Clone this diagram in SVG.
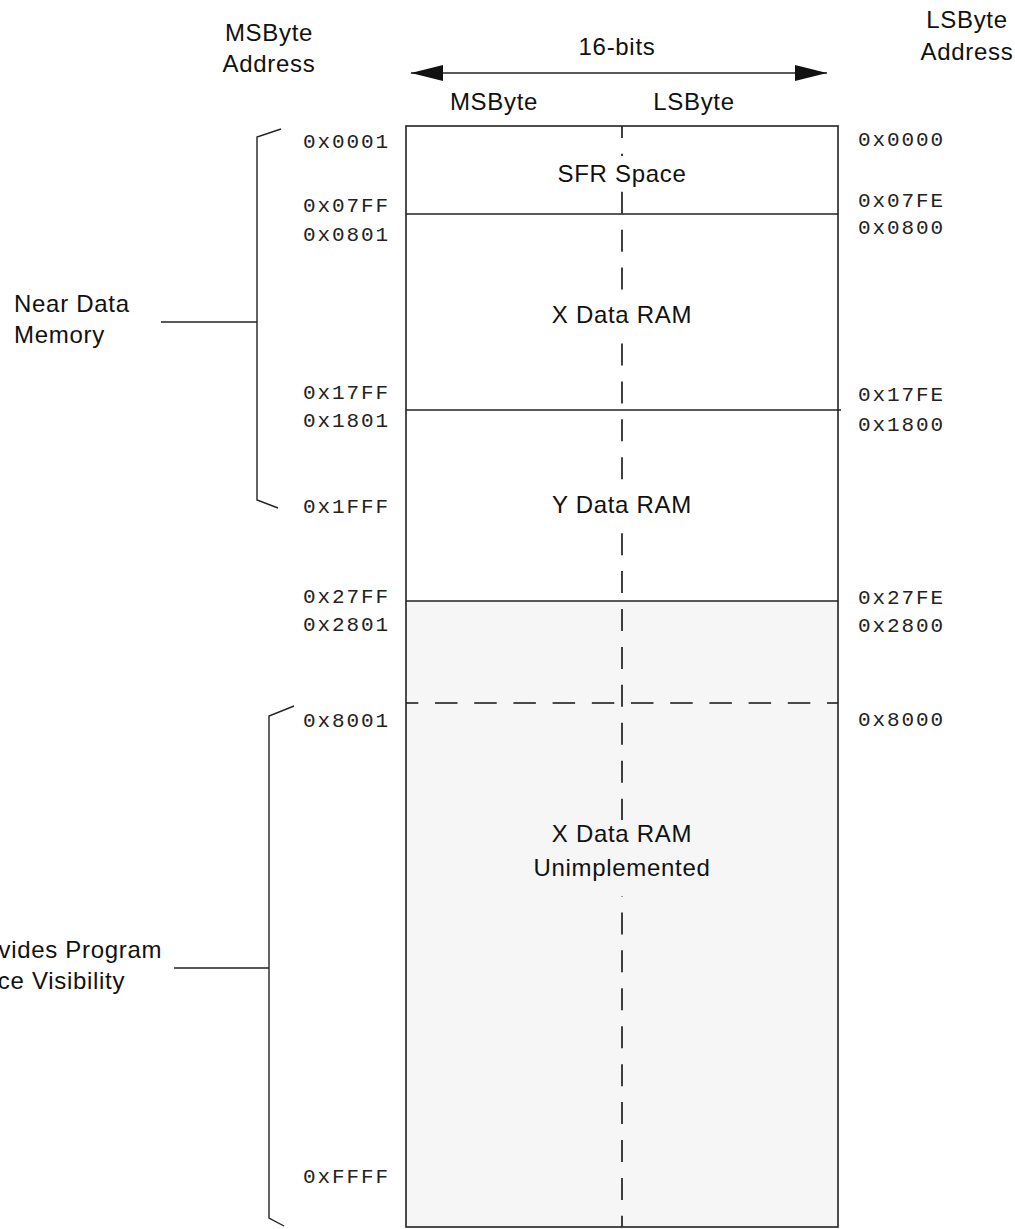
<svg xmlns="http://www.w3.org/2000/svg" width="1015" height="1229" viewBox="0 0 1015 1229">
<style>
.lbl{font-family:"Liberation Sans",Arial,sans-serif;font-size:24px;letter-spacing:0.7px;fill:#111}
.mid{text-anchor:middle}
.addr{font-family:"Liberation Mono","Courier New",monospace;font-size:21px;letter-spacing:1.9px;fill:#222}
.ln{stroke:#222;stroke-width:1.4;fill:none}
.box{stroke:#222;stroke-width:1.6}
.dash{stroke:#111;stroke-width:1.6;fill:none}
</style>
<defs>
<marker id="ah" viewBox="0 0 32 16" refX="32" refY="8" markerWidth="32" markerHeight="16" markerUnits="userSpaceOnUse" orient="auto-start-reverse">
<path d="M0,0 L32,8 L0,16 Z" fill="#111"/>
</marker>
</defs>
<rect width="1015" height="1229" fill="#fff"/>

<g id="header">
<text class="lbl mid" x="269" y="41">MSByte</text>
<text class="lbl mid" x="269" y="72">Address</text>
<text class="lbl mid" x="967" y="28">LSByte</text>
<text class="lbl mid" x="967" y="60">Address</text>
<text class="lbl mid" x="617" y="55">16-bits</text>
<text class="lbl mid" x="494" y="110">MSByte</text>
<text class="lbl mid" x="694" y="110">LSByte</text>
</g>

<g id="width-arrow">
<line class="ln" x1="411" y1="73" x2="827" y2="73" marker-start="url(#ah)" marker-end="url(#ah)"/>
</g>

<g id="unimplemented-region">
<rect x="406" y="601" width="432" height="626" fill="#f6f6f6"/>
</g>

<g id="connectors">
<line class="dash" x1="622" y1="126" x2="622" y2="1227" stroke-dasharray="22 15.93" stroke-dashoffset="10.1"/>
<line class="dash" x1="406" y1="703" x2="838" y2="703" stroke-dasharray="22.5 16.7" stroke-dashoffset="10.2"/>
<line class="ln" x1="406" y1="214" x2="838" y2="214"/>
<line class="ln" x1="406" y1="410" x2="841" y2="410"/>
<line class="ln" x1="406" y1="601" x2="838" y2="601"/>
<path class="ln" d="M281,129 L257,137 L257,500 L278,508"/>
<line class="ln" x1="161" y1="322" x2="257" y2="322"/>
<path class="ln" d="M294,706 L269,716 L269,1218 L284,1226"/>
<line class="ln" x1="174" y1="968" x2="269" y2="968"/>
</g>

<g id="memory-box">
<rect x="406" y="126" width="432" height="1101" fill="none" class="box"/>
</g>

<g id="sfr-space">
<rect x="580" y="156" width="84" height="31" fill="#fff"/>
<text class="lbl mid" x="622" y="182">SFR Space</text>
</g>
<g id="x-data-ram">
<rect x="560" y="299" width="124" height="31" fill="#fff"/>
<text class="lbl mid" x="622" y="323">X Data RAM</text>
</g>
<g id="y-data-ram">
<rect x="560" y="489" width="124" height="31" fill="#fff"/>
<text class="lbl mid" x="622" y="513">Y Data RAM</text>
</g>
<g id="x-data-ram-unimplemented">
<rect x="560" y="820" width="124" height="76" fill="#f6f6f6"/>
<text class="lbl mid" x="622" y="842">X Data RAM</text>
<text class="lbl mid" x="622" y="876">Unimplemented</text>
</g>

<g id="near-data-memory">
<text class="lbl" x="14" y="312">Near Data</text>
<text class="lbl" x="14" y="343">Memory</text>
</g>
<g id="program-space-visibility">
<text class="lbl" x="-41" y="958">Provides Program</text>
<text class="lbl" x="-47" y="989">Space Visibility</text>
</g>

<g id="msbyte-addresses">
<text class="addr" x="303" y="148">0x0001</text>
<text class="addr" x="303" y="212">0x07FF</text>
<text class="addr" x="303" y="241">0x0801</text>
<text class="addr" x="303" y="399">0x17FF</text>
<text class="addr" x="303" y="427">0x1801</text>
<text class="addr" x="303" y="513">0x1FFF</text>
<text class="addr" x="303" y="603">0x27FF</text>
<text class="addr" x="303" y="631">0x2801</text>
<text class="addr" x="303" y="727">0x8001</text>
<text class="addr" x="303" y="1183">0xFFFF</text>
</g>
<g id="lsbyte-addresses">
<text class="addr" x="858" y="146">0x0000</text>
<text class="addr" x="858" y="207">0x07FE</text>
<text class="addr" x="858" y="234">0x0800</text>
<text class="addr" x="858" y="401">0x17FE</text>
<text class="addr" x="858" y="431">0x1800</text>
<text class="addr" x="858" y="604">0x27FE</text>
<text class="addr" x="858" y="632">0x2800</text>
<text class="addr" x="858" y="726">0x8000</text>
</g>
</svg>
